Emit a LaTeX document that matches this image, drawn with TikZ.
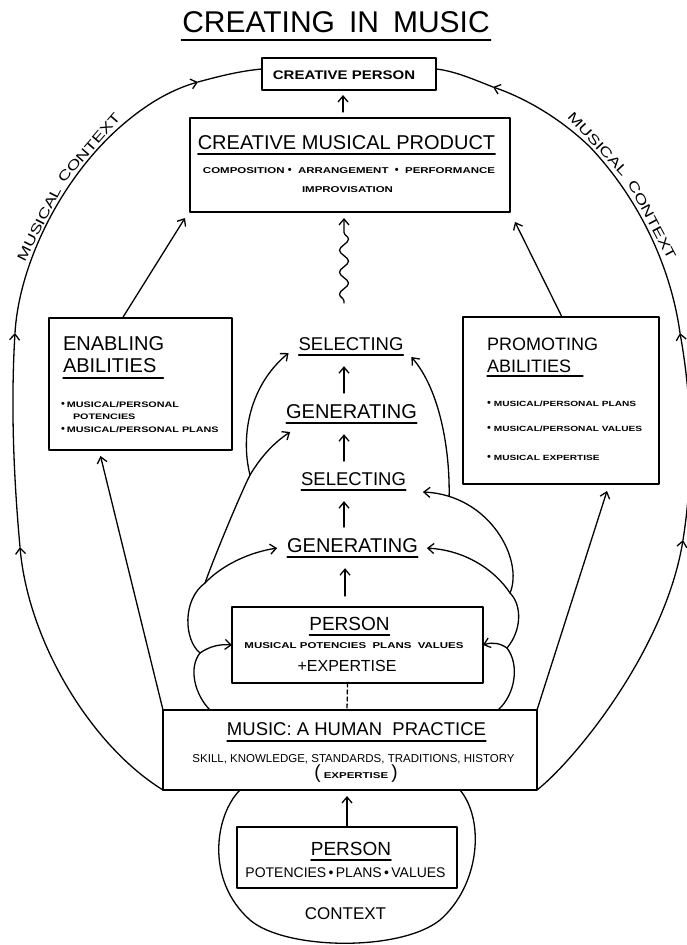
\documentclass[tikz,border=0pt]{standalone}
\usepackage{fontspec}
\newfontfamily\hn{Liberation Sans}
\newfontfamily\hw[FakeStretch=1.2]{Liberation Sans}
\newfontfamily\hx[FakeStretch=1.35]{Liberation Sans}
\usetikzlibrary{arrows.meta,decorations.pathmorphing,calc}
\newcommand\fsz[1]{\fontsize{#1}{#1}\selectfont}
\newcommand\arcfont{\hx\fontsize{13.5}{13.5}\selectfont}
\newcommand\bul{{\hn\fsz{11}•}}
\begin{document}
\begin{tikzpicture}[x=1pt,y=-1pt, line width=1.3pt, line join=round, line cap=round,
  arr/.style={-{Straight Barb[length=6pt,width=10pt]}},
  box/.style={draw, rectangle, inner sep=0pt, outer sep=0pt, fill=white},
  lbl/.style={inner sep=0pt, outer sep=0pt, anchor=base},
  lblw/.style={inner sep=0pt, outer sep=0pt, anchor=base west},
  arclbl/.style={inner sep=0pt, outer sep=0pt, anchor=center, font=\arcfont},
  ul/.style={line width=1.1pt},
  ctr/.style={arr, shorten <=11pt, shorten >=16pt}]
\useasboundingbox (0,0) rectangle (686,945);
\fill[white] (0,0) rectangle (686,945);

% ---- title
\node[lbl] (title) at (336,32) {\hn\fsz{30}CREATING\hspace{14pt}IN\hspace{14pt}MUSIC};
\draw[ul] ([xshift=-1pt,yshift=-8pt]title.base west) -- ([xshift=1pt,yshift=-8pt]title.base east);

% ---- context shape under the practice box
\draw (240,790) .. controls (215,815) and (205,880) .. (250,920)
      .. controls (285,950) and (400,952) .. (440,920)
      .. controls (480,885) and (485,820) .. (460,790);

% ---- boxes
\node[box, minimum width=174pt, minimum height=32pt] (cperson) at (349,74) {};
\node[box, minimum width=320pt, minimum height=94pt] (product) at (350,165) {};
\node[box, minimum width=183pt, minimum height=132pt] (enab) at (140.5,384) {};
\node[box, minimum width=196pt, minimum height=167pt] (prom) at (561,400.5) {};
\node[box, minimum width=251pt, minimum height=76pt] (person1) at (357.5,645) {};
\node[box, minimum width=374pt, minimum height=80pt] (music) at (350,750) {};
\node[box, minimum width=220pt, minimum height=61pt] (person2) at (347,857.5) {};

% ---- texts
\node[lbl] (cptext) at (344,79) {\hw\bfseries\fsz{12.5}CREATIVE PERSON};

\node[lbl] (pt1) at (346.5,149) {\hn\fsz{20}CREATIVE MUSICAL PRODUCT};
\draw[ul] ([yshift=-5pt]pt1.base west) -- ([yshift=-5pt]pt1.base east);
\node[lbl] (pt2) at (349,173) {\hx\bfseries\fsz{8.5}COMPOSITION\ \bul\ \ ARRANGEMENT\ \ \bul\ \ PERFORMANCE};
\node[lbl] (pt3) at (347.5,192) {\hx\bfseries\fsz{8.5}IMPROVISATION};

\node[lblw] (en1) at (63,350) {\hn\fsz{20}ENABLING};
\node[lblw] (en2) at (63,372) {\hn\fsz{20}ABILITIES};
\draw[ul] ([yshift=-6pt]en2.base west) -- ([xshift=7pt,yshift=-6pt]en2.base east);
\node[lblw] (eb1) at (61,407) {\bul\hspace{2pt}\hx\bfseries\fsz{8}MUSICAL/PERSONAL};
\node[lblw] (eb2) at (73,419) {\hx\bfseries\fsz{8}POTENCIES};
\node[lblw] (eb3) at (61,432) {\bul\hspace{2pt}\hx\bfseries\fsz{8}MUSICAL/PERSONAL PLANS};

\node[lblw] (pr1) at (487,350) {\hn\fsz{18}PROMOTING};
\node[lblw] (pr2) at (487,372) {\hn\fsz{18}ABILITIES};
\draw[ul] ([yshift=-4pt]pr2.base west) -- ([xshift=12pt,yshift=-4pt]pr2.base east);
\node[lblw] (pb1) at (487,406) {\bul\hspace{3pt}\hx\bfseries\fsz{7.5}MUSICAL/PERSONAL PLANS};
\node[lblw] (pb2) at (487,431) {\bul\hspace{3pt}\hx\bfseries\fsz{7.5}MUSICAL/PERSONAL VALUES};
\node[lblw] (pb3) at (487,460) {\bul\hspace{3pt}\hx\bfseries\fsz{7.5}MUSICAL EXPERTISE};

\node[lbl] (sel1) at (351,350) {\hn\fsz{18.5}SELECTING};
\node[lbl] (gen1) at (351.5,418) {\hn\fsz{20}GENERATING};
\node[lbl] (sel2) at (353.5,485) {\hn\fsz{18.5}SELECTING};
\node[lbl] (gen2) at (352.5,552) {\hn\fsz{20}GENERATING};
\foreach \n in {sel1,gen1,sel2,gen2}
  \draw[ul] ([yshift=-5pt]\n.base west) -- ([yshift=-5pt]\n.base east);

\node[lbl] (p1a) at (349.5,630) {\hn\fsz{19}PERSON};
\draw[ul] ([yshift=-5pt]p1a.base west) -- ([yshift=-5pt]p1a.base east);
\node[lbl] (p1b) at (354,648) {\hx\bfseries\fsz{8.5}MUSICAL POTENCIES\ \ PLANS\ \ VALUES};
\node[lbl] (p1c) at (347,671) {\hn\fsz{16}+EXPERTISE};

\node[lbl] (m1) at (356.5,735) {\hn\fsz{18.5}MUSIC: A HUMAN\ \ PRACTICE};
\draw[ul] ([yshift=-6pt]m1.base west) -- ([yshift=-6pt]m1.base east);
\node[lbl] (m2) at (353.5,762) {\hn\fsz{11.5}SKILL, KNOWLEDGE, STANDARDS, TRADITIONS, HISTORY};
\node[lbl] (m3) at (356,778) {\hn\fsz{19}(\,{\hx\bfseries\fsz{8.5}EXPERTISE}\,)};

\node[lbl] (p2a) at (351,855) {\hn\fsz{19}PERSON};
\draw[ul] ([yshift=-5pt]p2a.base west) -- ([yshift=-5pt]p2a.base east);
\node[lbl] (p2b) at (345.5,877) {\hn\fsz{14}POTENCIES\,•\,PLANS\,•\,VALUES};
\node[lbl] (ctx) at (345.5,919) {\hn\fsz{17}CONTEXT};

% ---- outer musical-context loop
\coordinate (L1) at (20,547);
\coordinate (L2) at (15,333);
\coordinate (L3) at (120,127);
\coordinate (L4) at (198,82);
\coordinate (R1) at (683,540);
\coordinate (R2) at (680,333);
\coordinate (R3) at (590,147);
\coordinate (R4) at (493,87);
\draw[arr] (music.south west) .. controls (90,745) and (28,640) .. (L1);
\draw[arr] (L1) .. controls (13,470) and (11,400) .. (L2);
\draw[arr] (L2) .. controls (19,265) and (60,180) .. (L3) .. controls (145,105) and (170,90) .. (L4);
\draw (L4) .. controls (220,76) and (240,71) .. ([yshift=5pt]cperson.west);
\draw[arr] (music.south east) .. controls (575,760) and (665,650) .. (R1);
\draw[arr] (R1) .. controls (694,470) and (692,400) .. (R2);
\draw[arr] (R2) .. controls (671,268) and (640,200) .. (R3) .. controls (560,118) and (525,98) .. (R4);
\draw (R4) .. controls (475,80) and (455,71) .. ([yshift=5pt]cperson.east);

% ---- arc labels
\node[arclbl, rotate=63] (mcl1) at (39,224) {MUSICAL};
\node[arclbl, rotate=49] (mcl2) at (89,148) {CONTEXT};
\node[arclbl, rotate=-47] (mcr1) at (598,144) {MUSICAL};
\node[arclbl, rotate=-62] (mcr2) at (652,220) {CONTEXT};

% ---- main arrows
\draw[arr, shorten <=6pt, shorten >=5pt] ([xshift=-7pt]product.north) -- ([xshift=-6pt]cperson.south);
\draw[arr] ([xshift=-18pt]enab.north) -- ([xshift=-5pt,yshift=-6pt]product.south west);
\draw[arr] ([xshift=1pt]prom.north) -- ([xshift=5pt,yshift=-10pt]product.south east);
\draw[arr] (music.north west) -- ([xshift=-40pt,yshift=-6pt]enab.south);
\draw[arr] (music.north east) -- ([xshift=46pt,yshift=-7pt]prom.south);
\draw[arr, decorate, decoration={snake, amplitude=4.5pt, segment length=22pt, pre length=2pt, post length=9pt}]
   ([xshift=-7pt,yshift=34pt]sel1.north) -- ([xshift=-6pt,yshift=-6pt]product.south);

% ---- centre column
\draw[ctr] ([xshift=-7.5pt]gen1.north) -- ([xshift=-7pt]sel1.south);
\draw[ctr] ([xshift=-9.5pt]sel2.north) -- ([xshift=-7.5pt]gen1.south);
\draw[ctr] ([xshift=-8.5pt]gen2.north) -- ([xshift=-9.5pt]sel2.south);
\draw[arr, shorten <=11pt, shorten >=16pt] ([xshift=-12.5pt]person1.north) -- ([xshift=-7.5pt]gen2.south);
\draw[dash pattern=on 4pt off 3pt] ([xshift=-10pt]person1.south) -- ([xshift=-3pt]music.north);
\draw[arr, shorten >=6pt] (person2.north) -- ([xshift=-3pt]music.south);

% ---- left feedback loops
\coordinate (la0) at (210,710);
\coordinate (jL1) at (200,653);
\coordinate (jL2) at (205,583);
\coordinate (jL3) at (250,475);
\draw (la0) .. controls (195,695) and (188,668) .. (jL1);
\draw[arr] (jL1) .. controls (210,646) and (220,644) .. (person1.west);
\draw (jL1) .. controls (184,640) and (182,600) .. (jL2);
\draw[arr] (jL2) .. controls (222,565) and (250,552) .. ([xshift=-10pt,yshift=-3pt]gen2.west);
\draw (jL2) .. controls (215,555) and (240,495) .. (jL3);
\draw[arr] (jL3) .. controls (262,455) and (275,442) .. ([xshift=4pt,yshift=-14pt]gen1.base west);
\draw[arr] (jL3) .. controls (240,435) and (250,385) .. ([xshift=-10pt,yshift=-3pt]sel1.base west);

% ---- right feedback loops
\coordinate (ra0) at (498,710);
\coordinate (jR1) at (507,648);
\coordinate (jR2) at (510,593);
\draw (ra0) .. controls (515,695) and (520,665) .. (jR1);
\draw[arr] (jR1) .. controls (500,643) and (492,642) .. (person1.east);
\draw (jR1) .. controls (522,630) and (522,605) .. (jR2);
\draw[arr] (jR2) .. controls (495,570) and (465,550) .. ([xshift=9pt,yshift=-3pt]gen2.east);
\draw[arr] (jR2) .. controls (524,560) and (490,495) .. coordinate[pos=0.86] (jR3) ([xshift=17pt,yshift=-7pt]sel2.base east);
\draw[arr] (jR3) .. controls (450,450) and (440,390) .. ([xshift=8pt,yshift=-7pt]sel1.base east);
\end{tikzpicture}
\end{document}
